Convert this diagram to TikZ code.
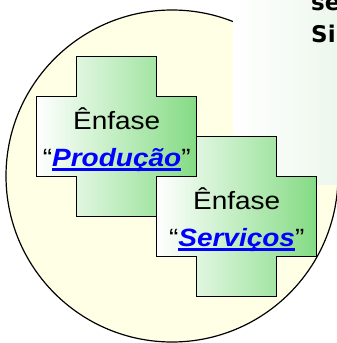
\documentclass[tikz,border=0pt]{standalone}
\usepackage{fontspec}
\setmainfont{Liberation Sans}
\newfontfamily\panelfont{DejaVu Sans}
\usepackage{graphicx}
\definecolor{circfill}{RGB}{255,255,230}
\definecolor{crossgreen}{RGB}{132,219,132}
\definecolor{panelgreen}{RGB}{236,247,236}
\definecolor{linkblue}{RGB}{0,0,255}
\newcommand{\linkul}[1]{\sbox0{#1}\rlap{\color{linkblue}\rule[-4.5pt]{\wd0}{2.2pt}}\usebox0}
\newcommand{\crosstext}[1]{\scalebox{1.12}[1]{\fontsize{25}{29}\selectfont #1}}
\tikzset{
  crossbox/.style={draw=black, line width=1.4pt, left color=white, right color=crossgreen},
  crosspic/.pic={
    \path[crossbox] (-40,-80) -- (40,-80) -- (40,-40) -- (80,-40) -- (80,40) -- (40,40)
      -- (40,80) -- (-40,80) -- (-40,40) -- (-80,40) -- (-80,-40) -- (-40,-40) -- cycle;
  },
  crosslabel/.style={anchor=base, inner sep=0pt, text=black},
  paneltext/.style={anchor=base west, inner sep=0pt, font=\panelfont\bfseries\fontsize{23}{27}\selectfont, text=black}
}
\begin{document}
\begin{tikzpicture}[x=1pt, y=-1pt]
\useasboundingbox (0,0) rectangle (337,343);
\clip (0,0) rectangle (337,343);
% background circle
\draw[fill=circfill, line width=1.2pt] (172,176) circle[radius=166];
% overlay panel
\path[left color=white, right color=panelgreen] (233,-2) rectangle (340,184);
\node[paneltext] (se) at (311,10) {se};
\node[paneltext] (si) at (311,42) {Si};
% crosses
\pic at (116.7,136.7) {crosspic};
\pic at (236.7,216.7) {crosspic};
% labels
\node[crosslabel] (e1) at (116.7,129) {\crosstext{Ênfase}};
\node[crosslabel] (p1) at (116.7,166) {\crosstext{“\textcolor{linkblue}{\linkul{\textbf{\textit{Produção}}}}”}};
\node[crosslabel] (e2) at (236.7,209) {\crosstext{Ênfase}};
\node[crosslabel] (p2) at (236.7,246) {\crosstext{“\textcolor{linkblue}{\linkul{\textbf{\textit{Serviços}}}}”}};
\end{tikzpicture}
\end{document}
